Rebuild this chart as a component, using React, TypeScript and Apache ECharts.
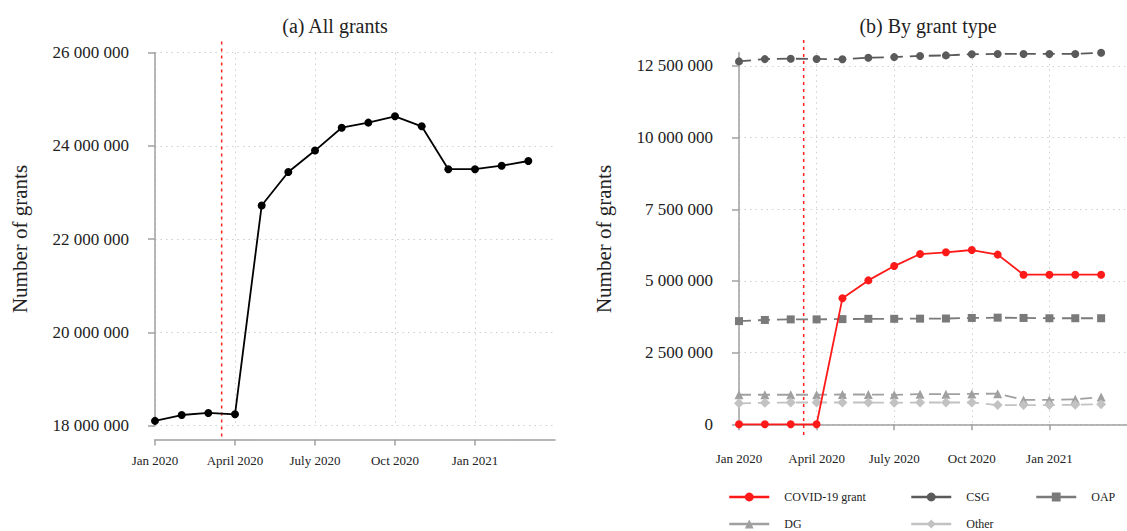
import React, { useEffect, useRef } from "react";
import * as echarts from "echarts";

// ---- data ----
const months = [
  "Jan 2020", "Feb 2020", "Mar 2020", "Apr 2020", "May 2020", "Jun 2020", "Jul 2020",
  "Aug 2020", "Sep 2020", "Oct 2020", "Nov 2020", "Dec 2020", "Jan 2021", "Feb 2021", "Mar 2021",
];
const tickMonths = [0, 3, 6, 9, 12];
const tickLabels = ["Jan 2020", "April 2020", "July 2020", "Oct 2020", "Jan 2021"];
const policyMonth = 2.5;

const allGrants = [
  18100000, 18225000, 18270000, 18240000, 22720000, 23440000, 23900000, 24390000,
  24500000, 24635000, 24420000, 23500000, 23500000, 23575000, 23676000,
];
const covid = [
  0, 0, 0, 0, 4400000, 5020000, 5520000, 5940000, 6000000, 6080000, 5920000, 5220000,
  5220000, 5220000, 5220000,
];
const csg = [
  12660000, 12740000, 12755000, 12745000, 12734000, 12790000, 12810000, 12850000,
  12870000, 12910000, 12920000, 12920000, 12920000, 12920000, 12960000,
];
const oap = [
  3600000, 3640000, 3660000, 3660000, 3670000, 3680000, 3680000, 3685000, 3690000,
  3710000, 3720000, 3710000, 3700000, 3700000, 3700000,
];
const dg = [
  1030000, 1030000, 1030000, 1030000, 1040000, 1040000, 1030000, 1050000, 1050000,
  1060000, 1070000, 850000, 850000, 870000, 950000,
];
const other = [
  730000, 750000, 760000, 760000, 760000, 760000, 750000, 760000, 760000, 760000,
  670000, 670000, 670000, 680000, 700000,
];

const FONT = "Liberation Serif";
const TEXT = "#222";
const AXIS = "#a0a0a0";

const fmt = (v: number) =>
  v === 0 ? "0" : String(Math.round(v)).replace(/\B(?=(\d{3})+(?!\d))/g, " ");

function xAxisCfg(gridIndex: number) {
  return {
    type: "value",
    gridIndex,
    min: 0,
    max: 15,
    interval: 3,
    offset: 14,
    axisLine: { show: true, lineStyle: { color: AXIS, width: 1.5 } },
    axisTick: {
      show: true,
      length: 6,
      customValues: tickMonths,
      lineStyle: { color: AXIS, width: 1.5 },
    },
    axisLabel: {
      customValues: tickMonths,
      margin: 14,
      fontFamily: FONT,
      fontSize: 13,
      color: TEXT,
      formatter: (v: number) => {
        const i = tickMonths.indexOf(Math.round(v));
        return i >= 0 ? tickLabels[i] : "";
      },
    },
    splitLine: { show: true, lineStyle: { color: "#cfcfcf", type: [1.5, 4], width: 1 } },
  };
}

function yAxisCfg(gridIndex: number, min: number, max: number, interval: number, labels: number[]) {
  return {
    type: "value",
    gridIndex,
    min,
    max,
    interval,
    offset: 14,
    axisLine: { show: true, lineStyle: { color: AXIS, width: 1.5 } },
    axisTick: { show: true, length: 7, customValues: labels, lineStyle: { color: AXIS, width: 1.5 } },
    axisLabel: {
      customValues: labels,
      margin: 12,
      fontFamily: FONT,
      fontSize: 17,
      color: TEXT,
      formatter: fmt,
    },
    splitLine: { show: true, lineStyle: { color: "#cfcfcf", type: [1.5, 4], width: 1 } },
  };
}

function grayLine(name: string, data: number[], color: string, symbol: string, size: number) {
  return {
    name,
    type: "line",
    xAxisIndex: 1,
    yAxisIndex: 1,
    data: data.map((v, i) => [i, v]),
    symbol,
    symbolSize: size,
    clip: false,
    lineStyle: { color, width: 1.8, type: [12, 7] },
    itemStyle: { color },
    z: 3,
  };
}

export default function App() {
  const ref = useRef<HTMLDivElement>(null);
  useEffect(() => {
    if (!ref.current) return;
    const chart = echarts.init(ref.current, null, { renderer: "svg" });
    const legendBase = {
      itemWidth: 40,
      itemHeight: 11,
      padding: 0,
      selectedMode: false,
      lineStyle: { type: "solid", width: 2.5 },
      textStyle: { fontFamily: FONT, fontSize: 12, color: TEXT, padding: [0, 0, 0, 10] },
    };
    chart.setOption({
      animation: false,
      backgroundColor: "#fff",
      grid: [
        { left: 155, top: 52.7, width: 400, height: 372.8 },
        { left: 739, top: 52.8, width: 399, height: 371.5 },
      ],
      xAxis: [xAxisCfg(0), xAxisCfg(1)],
      yAxis: [
        yAxisCfg(0, 18000000, 26000000, 2000000, [18000000, 20000000, 22000000, 24000000, 26000000]),
        yAxisCfg(1, 0, 12960000, 2500000, [0, 2500000, 5000000, 7500000, 10000000, 12500000]),
      ],
      legend: [
        { ...legendBase, data: ["COVID-19 grant"], left: 728, top: 491 },
        { ...legendBase, data: ["CSG"], left: 910, top: 491 },
        { ...legendBase, data: ["OAP"], left: 1035, top: 491 },
        { ...legendBase, data: ["DG"], left: 728, top: 518 },
        { ...legendBase, data: ["Other"], left: 910, top: 518 },
      ],
      graphic: [
        {
          type: "text",
          x: 335,
          y: 26,
          style: { text: "(a) All grants", font: `20px "${FONT}"`, fill: TEXT, align: "center", verticalAlign: "middle" },
        },
        {
          type: "text",
          x: 928,
          y: 26,
          style: { text: "(b) By grant type", font: `20px "${FONT}"`, fill: TEXT, align: "center", verticalAlign: "middle" },
        },
        {
          type: "text",
          x: 20,
          y: 239,
          rotation: Math.PI / 2,
          style: { text: "Number of grants", font: `21px "${FONT}"`, fill: TEXT, align: "center", verticalAlign: "middle" },
        },
        {
          type: "text",
          x: 604,
          y: 239,
          rotation: Math.PI / 2,
          style: { text: "Number of grants", font: `21px "${FONT}"`, fill: TEXT, align: "center", verticalAlign: "middle" },
        },
      ],
      series: [
        {
          name: "policy-a",
          type: "line",
          xAxisIndex: 0,
          yAxisIndex: 0,
          data: [[policyMonth, 26240000], [policyMonth, 17730000]],
          symbol: "none",
          clip: false,
          lineStyle: { color: "#ff2020", width: 1.5, type: [3, 4] },
          z: 1,
        },
        {
          name: "All grants",
          type: "line",
          xAxisIndex: 0,
          yAxisIndex: 0,
          data: allGrants.map((v, i) => [i, v]),
          symbol: "circle",
          symbolSize: 8,
          clip: false,
          lineStyle: { color: "#000", width: 1.8 },
          itemStyle: { color: "#000" },
          z: 3,
        },
        {
          name: "policy-b",
          type: "line",
          xAxisIndex: 1,
          yAxisIndex: 1,
          data: [[policyMonth, 13410000], [policyMonth, -480000]],
          symbol: "none",
          clip: false,
          lineStyle: { color: "#ff2020", width: 1.5, type: [3, 4] },
          z: 1,
        },
        grayLine("CSG", csg, "#5a5a5a", "circle", 8),
        grayLine("OAP", oap, "#7a7a7a", "rect", 8),
        grayLine("DG", dg, "#a0a0a0", "triangle", 9),
        grayLine("Other", other, "#c2c2c2", "diamond", 10),
        {
          name: "COVID-19 grant",
          type: "line",
          xAxisIndex: 1,
          yAxisIndex: 1,
          data: covid.map((v, i) => [i, v]),
          symbol: "circle",
          symbolSize: 8,
          clip: false,
          lineStyle: { color: "#ff1a1a", width: 1.8 },
          itemStyle: { color: "#ff1a1a" },
          z: 4,
        },
      ],
    });
    return () => chart.dispose();
  }, []);
  return (
    <div
      ref={ref}
      style={{ position: "absolute", left: 0, top: 0, width: 1127, height: 531, background: "#fff" }}
    />
  );
}
